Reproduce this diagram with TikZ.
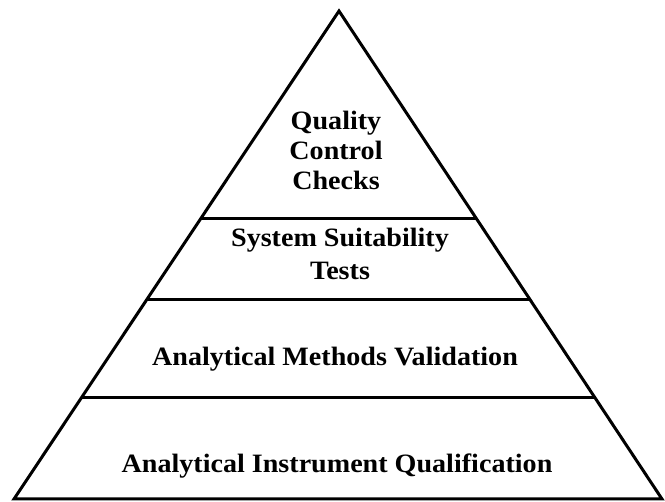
\documentclass[tikz,border=0pt]{standalone}
\usepackage{fontspec}
\setmainfont{Liberation Serif}
\newfontfamily\lblfont[FakeStretch=1.06]{Liberation Serif}
\usetikzlibrary{calc}
\tikzset{
  edge/.style={line width=3pt, line join=miter},
  sep/.style={line width=3pt},
  lbl/.style={font=\lblfont\fontsize{26.5}{30}\selectfont\bfseries, align=center, inner sep=0pt, anchor=base}
}
\begin{document}
\begin{tikzpicture}[x=1pt,y=-1pt]
\useasboundingbox (0,0) rectangle (665,502);
\coordinate (apex) at (339,11);
\coordinate (bl) at (14,499);
\coordinate (br) at (662,499);
\draw[edge] (apex) -- (bl) -- (br) -- cycle;
% separators: t = (y-11)/488
\coordinate (l1) at ($(apex)!0.4262!(bl)$);
\coordinate (r1) at ($(apex)!0.4262!(br)$);
\coordinate (l2) at ($(apex)!0.5922!(bl)$);
\coordinate (r2) at ($(apex)!0.5922!(br)$);
\coordinate (l3) at ($(apex)!0.7910!(bl)$);
\coordinate (r3) at ($(apex)!0.7910!(br)$);
\draw[sep] (l1) -- (r1);
\draw[sep] (l2) -- (r2);
\draw[sep] (l3) -- (r3);
\node[lbl] (qc) at (336,190) {Quality\\Control\\Checks};
\node[lbl] (sst) at (340,280) {System Suitability\\[3pt]Tests};
\node[lbl] (amv) at (335,366) {Analytical Methods Validation};
\node[lbl] (aiq) at (337,473) {Analytical Instrument Qualification};
\end{tikzpicture}
\end{document}
